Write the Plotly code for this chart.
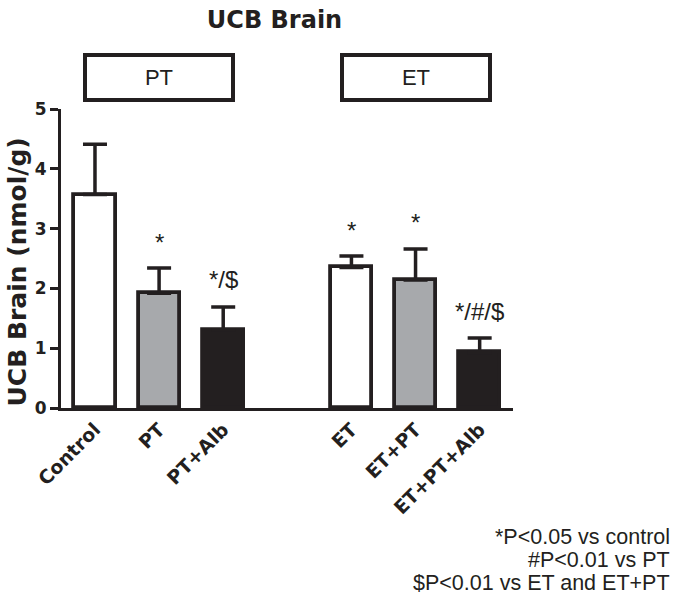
import plotly.graph_objects as go

# ---- data ----
group_names = ["PT", "ET"]
group_members = [["Control", "PT", "PT+Alb"], ["ET", "ET+PT", "ET+PT+Alb"]]
categories = ["Control", "PT", "PT+Alb", "ET", "ET+PT", "ET+PT+Alb"]
means = [3.57, 1.92, 1.31, 2.35, 2.14, 0.93]
upper = [4.41, 2.34, 1.69, 2.54, 2.66, 1.17]   # mean + SEM (top of error bar)
sig_labels = ["", "*", "*/$", "*", "*", "*/#/$"]
y_ticks = [0, 1, 2, 3, 4, 5]
footnotes = ["*P<0.05 vs control", "#P<0.01 vs PT", "$P<0.01 vs ET and ET+PT"]

INK = "#231f20"
fills = ["#ffffff", "#a7a9ac", INK, "#ffffff", "#a7a9ac", INK]

# x positions: one empty slot between the two groups
x_pos = []
pos = 0
for members in group_members:
    for _ in members:
        x_pos.append(pos)
        pos += 1
    pos += 1

errs = [u - m for u, m in zip(upper, means)]

fig = go.Figure()
fig.add_trace(go.Bar(
    x=x_pos, y=means, width=0.64,
    marker=dict(color=fills, line=dict(color=INK, width=3.8)),
    error_y=dict(type="data", array=errs, arrayminus=[0] * len(errs), symmetric=False,
                 color=INK, thickness=3.5, width=12),
    showlegend=False, hoverinfo="skip",
))

BOLD = "DejaVu Sans"
REG = "Liberation Sans, Arial"

annotations = []
for xp, u, s in zip(x_pos, upper, sig_labels):
    if s:
        annotations.append(dict(
            x=xp, y=u, xref="x", yref="y", text=s, showarrow=False,
            yanchor="middle", yshift=26 if s == "*" else 27,
            font=dict(family=REG, size=24, color=INK)))

# group boxes above plot
idx = 0
for name, members in zip(group_names, group_members):
    xs = x_pos[idx: idx + len(members)]
    idx += len(members)
    annotations.append(dict(
        x=sum(xs) / len(xs), y=1.104, xref="x", yref="paper", text=name,
        showarrow=False, xanchor="center", yanchor="middle",
        width=144, height=41, borderpad=0,
        bordercolor=INK, borderwidth=4, bgcolor="white",
        font=dict(family=REG, size=22, color=INK)))

# y axis title as annotation
annotations.append(dict(
    x=-0.0962, y=0.455, xref="paper", yref="paper", text="UCB Brain (nmol/g)",
    textangle=-90, showarrow=False, xanchor="center", yanchor="middle",
    font=dict(family=BOLD, size=25, color=INK, weight="bold")))

# footnotes
for i, t in enumerate(footnotes):
    annotations.append(dict(
        x=1.352, y=(408 - (537 + 23 * i)) / 299, xref="paper", yref="paper",
        text=t, showarrow=False, xanchor="right", yanchor="middle",
        font=dict(family=REG, size=21.5, color=INK)))

fig.update_layout(
    width=675, height=602,
    margin=dict(l=61, r=162, t=109, b=194, pad=0),
    paper_bgcolor="white", plot_bgcolor="white",
    title=dict(text="UCB Brain", x=0.4067, xanchor="center",
               y=1 - 20 / 602, yanchor="middle",
               font=dict(family=BOLD, size=24, color=INK, weight="bold")),
    xaxis=dict(range=[-0.53, 6.52], tickvals=x_pos, ticktext=categories,
               tickangle=-45, ticks="", showline=True, linecolor=INK, linewidth=3,
               showgrid=False, zeroline=False,
               tickfont=dict(family=BOLD, size=19, color=INK, weight="bold")),
    yaxis=dict(range=[0, 5], tickvals=y_ticks, ticks="outside", ticklen=8,
               tickwidth=2.5, tickcolor=INK, showline=True, linecolor=INK,
               linewidth=3, showgrid=False, zeroline=False,
               tickfont=dict(family=BOLD, size=17, color=INK, weight="bold")),
    annotations=annotations,
    bargap=0,
)

fig.write_html("out.html", config={"displayModeBar": False},
               post_script="document.body.style.margin='0px';")
